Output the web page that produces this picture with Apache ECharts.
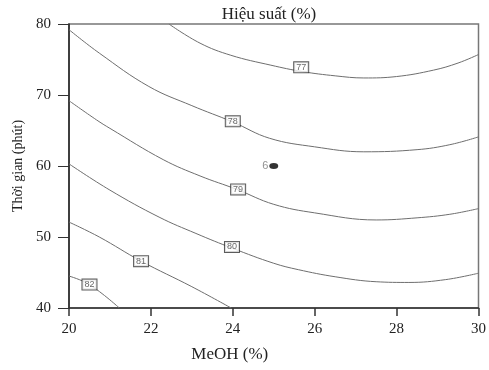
<!DOCTYPE html>
<html>
<head>
<meta charset="utf-8">
<script src="https://cdn.jsdelivr.net/npm/echarts@6/dist/echarts.min.js"></script>
<style>
  html, body { margin: 0; padding: 0; background: #fff; }
  #main { width: 489px; height: 370px; }
</style>
</head>
<body>
<div id="main"></div>
<script>
// contour levels and their lines (MeOH %, time in minutes)
var levels = [77, 78, 79, 80, 81, 82];
var c77 = [[22.44, 80], [23.2, 77.3], [23.95, 75.6], [24.93, 74.2], [25.7, 73.3], [26.5, 72.7], [27.2, 72.4], [28.0, 72.6], [28.9, 73.5], [29.5, 74.5], [30, 75.7]];
var c78 = [[20, 79.2], [20.74, 75.9], [21.95, 71.2], [23.0, 68.5], [24.0, 66.2], [24.9, 63.9], [26.0, 62.7], [27.2, 62.0], [28.5, 62.3], [29.3, 63.0], [30, 64.1]];
var c79 = [[20, 69.2], [20.67, 66.5], [21.0, 65.3], [22.3, 60.9], [23.2, 58.6], [24.1, 56.7], [25.0, 54.6], [26.0, 53.4], [27.5, 52.4], [28.5, 52.7], [29.3, 53.2], [30, 54.0]];
var c80 = [[20, 60.3], [21.0, 56.6], [22.2, 52.8], [23.1, 50.5], [24.0, 48.4], [25.0, 46.3], [25.6, 45.4], [26.5, 44.4], [27.5, 43.7], [28.3, 43.6], [29.2, 44.0], [30, 44.9]];
var c81 = [[20, 52.1], [20.74, 50.0], [21.76, 46.6], [23.0, 43.0], [23.96, 40]];
var c82 = [[20, 44.5], [20.5, 43.3], [21.23, 40]];
var contours = [c77, c78, c79, c80, c81, c82];

// where the level labels sit
var labelX = [25.67, 24.0, 24.13, 23.98, 21.76, 20.5];
var labelY = [73.9, 66.3, 56.7, 48.6, 46.6, 43.3];

// design point
var pointName = '6';
var pointXY = [25.0, 60.0];

var xTicks = [20, 30, 2];
var yTicks = [40, 80, 10];

var serif = 'Liberation Serif';

var myChart = echarts.init(document.getElementById('main'));

var series = contours.map(function (line, i) {
  return {
    name: 'c' + levels[i],
    type: 'line',
    data: line,
    smooth: 0.4,
    showSymbol: false,
    symbol: 'none',
    silent: true,
    lineStyle: { color: '#6e6e6e', width: 1 }
  };
});

series.push({
  name: 'labels',
  type: 'scatter',
  symbolSize: 1,
  itemStyle: { color: 'rgba(0,0,0,0)' },
  z: 5,
  data: levels.map(function (lv, i) { return [labelX[i], labelY[i], lv]; }),
  label: {
    show: true,
    position: 'inside',
    formatter: function (p) { return p.value[2]; },
    fontFamily: 'Liberation Sans',
    fontSize: 9,
    color: '#444',
    backgroundColor: '#fff',
    borderColor: '#333',
    borderWidth: 1,
    padding: [1, 2, 0, 2]
  }
});

series.push({
  name: 'point',
  type: 'scatter',
  symbol: 'circle',
  symbolSize: [9, 6],
  itemStyle: { color: '#000' },
  z: 6,
  data: [pointXY],
  label: {
    show: true,
    position: 'left',
    distance: 1,
    formatter: pointName,
    fontFamily: 'Liberation Sans',
    fontSize: 11,
    color: '#777'
  }
});

myChart.setOption({
  animation: false,
  title: {
    text: 'Hiệu suất (%)',
    left: 264,
    textAlign: 'center',
    top: 1,
    textStyle: { fontFamily: serif, fontSize: 17, fontWeight: 'normal', color: '#222' }
  },
  grid: {
    left: 69, right: 6, top: 24, bottom: 62,
    show: true,
    borderColor: '#777',
    borderWidth: 1.5
  },
  xAxis: {
    type: 'value',
    min: xTicks[0], max: xTicks[1], interval: xTicks[2],
    name: 'MeOH (%)',
    nameLocation: 'middle',
    nameGap: 38,
    nameTextStyle: { fontFamily: serif, fontSize: 17, color: '#222', padding: [0, 88, 0, 0] },
    axisLine: { show: true, lineStyle: { color: '#333', width: 1.5 } },
    axisTick: { show: true, inside: false, length: 8, lineStyle: { color: '#333', width: 1.5 } },
    axisLabel: { fontFamily: serif, fontSize: 15, color: '#222', margin: 14 },
    splitLine: { show: false }
  },
  yAxis: {
    type: 'value',
    min: yTicks[0], max: yTicks[1], interval: yTicks[2],
    name: 'Thời gian (phút)',
    nameLocation: 'middle',
    nameGap: 37,
    nameTextStyle: { fontFamily: serif, fontSize: 14, color: '#222' },
    axisLine: { show: true, lineStyle: { color: '#222', width: 1.5 } },
    axisTick: { show: true, inside: false, length: 11, lineStyle: { color: '#333', width: 1 } },
    axisLabel: { fontFamily: serif, fontSize: 15, color: '#222', margin: 18 },
    splitLine: { show: false }
  },
  series: series
});
</script>
</body>
</html>
